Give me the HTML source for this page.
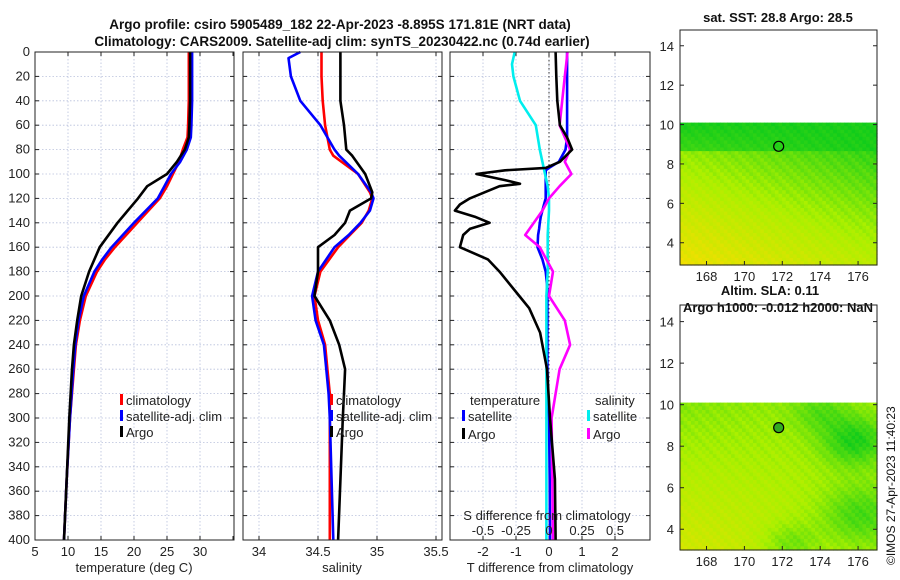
<!DOCTYPE html>
<html><head><meta charset="utf-8"><style>
body{margin:0;background:#fff}
svg{font-family:"Liberation Sans",sans-serif;display:block}
</style></head><body>
<svg id="fig" width="900" height="580" viewBox="0 0 900 580">
<text x="340" y="29" font-size="13.5" font-weight="bold" text-anchor="middle" fill="#111">Argo profile: csiro 5905489_182 22-Apr-2023 -8.895S 171.81E (NRT data)</text>
<text x="342" y="46" font-size="13.5" font-weight="bold" text-anchor="middle" fill="#111">Climatology: CARS2009. Satellite-adj clim: synTS_20230422.nc (0.74d earlier)</text>
<text x="778" y="22" font-size="13" font-weight="bold" text-anchor="middle" fill="#111">sat. SST: 28.8 Argo: 28.5</text>
<text x="770" y="295" font-size="13" font-weight="bold" text-anchor="middle" fill="#111">Altim. SLA: 0.11</text>
<text x="778" y="312" font-size="13" font-weight="bold" text-anchor="middle" fill="#111">Argo h1000: -0.012 h2000: NaN</text>
<text transform="translate(895,565) rotate(-90)" font-size="12" fill="#111">©IMOS 27-Apr-2023 11:40:23</text>
<g id="layer"></g>
</svg>
<script>
// depth levels (m)
const depthT=[0,20,40,60,70,80,90,100,110,120,140,160,170,180,200,220,240,260,300,350,400];
const tempClim=[28.3,28.3,28.3,28.2,28.1,27.4,26.8,25.9,25.0,23.9,20.5,17.1,15.6,14.4,12.7,11.8,11.2,10.9,10.3,9.8,9.4];
const tempSat=[28.8,28.8,28.8,28.7,28.6,28.0,27.0,25.6,24.6,23.6,20.0,16.6,15.2,14.0,12.4,11.6,11.1,10.8,10.3,9.8,9.4];
const tempArgo=[28.5,28.5,28.5,28.4,28.3,27.7,26.5,25.0,22.0,20.6,17.5,14.8,14.0,13.2,12.0,11.4,10.9,10.6,10.2,9.8,9.4];
const depthS=[0,5,20,40,60,80,85,100,115,120,130,140,150,160,180,200,220,240,260,280,300,400];
const salClim=[34.53,34.53,34.53,34.54,34.56,34.60,34.63,34.84,34.94,34.96,34.93,34.87,34.77,34.67,34.52,34.47,34.50,34.56,34.58,34.60,34.60,34.60];
const salSat=[34.35,34.25,34.27,34.35,34.52,34.64,34.68,34.84,34.95,34.97,34.94,34.86,34.76,34.64,34.50,34.45,34.48,34.55,34.57,34.59,34.60,34.63];
const salArgo=[34.69,34.69,34.69,34.69,34.72,34.74,34.79,34.90,34.96,34.95,34.77,34.73,34.64,34.50,34.50,34.47,34.60,34.68,34.73,34.72,34.71,34.67];
const depthD=[0,20,40,60,70,80,90,95,97,100,105,108,110,115,120,125,130,135,140,145,150,160,170,180,190,200,210,230,260,300,350,400];
const dTsat=[0.55,0.55,0.55,0.55,0.55,0.5,0.3,0.0,-0.1,-0.1,-0.1,-0.1,-0.1,-0.1,-0.1,-0.15,-0.2,-0.25,-0.28,-0.3,-0.33,-0.35,-0.2,-0.1,-0.06,-0.05,-0.05,-0.05,-0.05,0.0,0.02,0.03];
const dTargo=[0.2,0.22,0.25,0.33,0.55,0.7,0.33,-0.1,-1.33,-2.2,-1.33,-0.88,-1.5,-1.95,-2.4,-2.7,-2.85,-2.25,-1.8,-2.4,-2.6,-2.7,-1.85,-1.5,-1.2,-0.9,-0.6,-0.27,-0.06,0.03,0.18,0.2];
const depthDS=[0,10,20,40,60,80,90,100,110,120,130,150,160,180,200,220,240,260,300,400];
const dSsat=[-0.26,-0.28,-0.27,-0.22,-0.1,-0.07,-0.05,-0.03,-0.01,0.0,0.0,-0.01,-0.01,-0.01,-0.02,-0.02,-0.02,-0.02,-0.02,-0.02];
const dSargo=[0.14,0.13,0.12,0.1,0.08,0.16,0.12,0.17,0.08,0.0,-0.05,-0.18,-0.07,0.03,0.0,0.12,0.16,0.08,0.02,0.03];
const depthTicks=[0,20,40,60,80,100,120,140,160,180,200,220,240,260,280,300,320,340,360,380,400];
const tempTicks=[5,10,15,20,25,30,35];
const salTicks=[34,34.5,35,35.5];
const dTTicks=[-2,-1,0,1,2];
const dSTicks=[-0.5,-0.25,0,0.25,0.5];
const latTicks=[4,6,8,10,12,14];
const lonTicks=[168,170,172,174,176];

const NS='http://www.w3.org/2000/svg';
const L=document.getElementById('layer');
function mk(tag,attrs,parent){const e=document.createElementNS(NS,tag);for(const k in attrs)e.setAttribute(k,attrs[k]);(parent||L).appendChild(e);return e;}
const Y0=52,Y1=540;
const yD=d=>Y0+(d/400)*(Y1-Y0);
function lin(d0,d1,p0,p1){return v=>p0+(v-d0)/(d1-d0)*(p1-p0);}
const P=[{x0:35,x1:234,sc:lin(5,35,35,233)},{x0:243,x1:442,sc:lin(34,35.5,259,436)},{x0:450,x1:650,sc:lin(-3,3,450,648)}];
const sS=lin(-0.75,0.75,450,648);

function grid(p,ticks,sc,name){
  const g=mk('g',{});
  
  ticks.forEach(t=>{const x=sc(t);if(x>p.x0+1&&x<p.x1-1)mk('line',{x1:x,x2:x,y1:Y0,y2:Y1,stroke:'#b8c0dc','stroke-width':0.8,'stroke-dasharray':'1.5,2'},g);});
  depthTicks.forEach(d=>{mk('line',{x1:p.x0,x2:p.x1,y1:yD(d),y2:yD(d),stroke:'#b8c0dc','stroke-width':0.8,'stroke-dasharray':'1.5,2'},g);
    mk('line',{x1:p.x0,x2:p.x0+4,y1:yD(d),y2:yD(d),stroke:'#222'},g);mk('line',{x1:p.x1-4,x2:p.x1,y1:yD(d),y2:yD(d),stroke:'#222'},g);});
  ticks.forEach(t=>{const x=sc(t);mk('line',{x1:x,x2:x,y1:Y1,y2:Y1-4,stroke:'#222'},g);mk('line',{x1:x,x2:x,y1:Y0,y2:Y0+4,stroke:'#222'},g);});
}
function frame(p,name){const r=mk('rect',{x:p.x0,y:Y0,width:p.x1-p.x0,height:Y1-Y0,fill:'none',stroke:'#222','stroke-width':1});
  }
function line(xs,ds,sc,color,name,w){
  const pts=xs.map((v,i)=>sc(v).toFixed(1)+','+yD(ds[i]).toFixed(1)).join(' ');
  const e=mk('polyline',{points:pts,fill:'none',stroke:color,'stroke-width':w||2.6,'stroke-linejoin':'round'});
  
}
function txt(x,y,s,opts,name){const e=mk('text',Object.assign({x:x,y:y,'font-size':13,fill:'#222'},opts||{}));e.textContent=s;
  return e;}

grid(P[0],tempTicks,P[0].sc,'temperature');
line(tempClim,depthT,P[0].sc,'#ff0000','temp-climatology-line');
line(tempSat,depthT,P[0].sc,'#0000ff','temp-satellite-line');
line(tempArgo,depthT,P[0].sc,'#000000','temp-argo-line');
frame(P[0],'temperature-panel');
depthTicks.forEach(d=>txt(30,yD(d)+4,String(d),{'text-anchor':'end'},'depth-tick-label'));
tempTicks.slice(0,6).forEach(t=>txt(P[0].sc(t),556,String(t),{'text-anchor':'middle'},'temp-tick-label'));
txt(134,572,'temperature (deg C)',{'text-anchor':'middle'},'temp-axis-title');

grid(P[1],salTicks,P[1].sc,'salinity');
line(salClim,depthS,P[1].sc,'#ff0000','sal-climatology-line');
line(salSat,depthS,P[1].sc,'#0000ff','sal-satellite-line');
line(salArgo,depthS,P[1].sc,'#000000','sal-argo-line');
frame(P[1],'salinity-panel');
salTicks.forEach(t=>txt(P[1].sc(t),556,String(t),{'text-anchor':'middle'},'sal-tick-label'));
txt(342,572,'salinity',{'text-anchor':'middle'},'sal-axis-title');

grid(P[2],dTTicks,P[2].sc,'difference');
mk('line',{x1:P[2].sc(0),x2:P[2].sc(0),y1:Y0,y2:Y1,stroke:'#333','stroke-width':1,'stroke-dasharray':'1.5,2.5'});
line(dTsat,depthD,P[2].sc,'#0000ff','dT-satellite-line');
line(dSsat,depthDS,sS,'#00eeee','dS-satellite-line');
line(dSargo,depthDS,sS,'#ff00ff','dS-argo-line');
line(dTargo,depthD,P[2].sc,'#000000','dT-argo-line');
frame(P[2],'difference-panel');
dTTicks.forEach(t=>txt(P[2].sc(t),556,String(t),{'text-anchor':'middle'},'dT-tick-label'));
txt(550,572,'T difference from climatology',{'text-anchor':'middle'},'dT-axis-title');
txt(547,520,'S difference from climatology',{'text-anchor':'middle'},'dS-axis-title');
dSTicks.forEach(t=>txt(sS(t),535,String(t),{'text-anchor':'middle'},'dS-tick-label'));

function leg(x,y,color,label,name){const r=mk('rect',{x:x,y:y-11,width:3,height:11,fill:color});
  txt(x+6,y,label,{},name);}
leg(120,405,'#ff0000','climatology','legend-temp-climatology');
leg(120,421,'#0000ff','satellite-adj. clim','legend-temp-satellite');
leg(120,437,'#000','Argo','legend-temp-argo');
leg(330,405,'#ff0000','climatology','legend-sal-climatology');
leg(330,421,'#0000ff','satellite-adj. clim','legend-sal-satellite');
leg(330,437,'#000','Argo','legend-sal-argo');
txt(470,405,'temperature',{},'legend-temp-heading');
txt(595,405,'salinity',{},'legend-sal-heading');
leg(462,421,'#0000ff','satellite','legend-dT-satellite');
leg(462,439,'#000','Argo','legend-dT-argo');
leg(587,421,'#00eeee','satellite','legend-dS-satellite');
leg(587,439,'#ff00ff','Argo','legend-dS-argo');

function col(t){t=Math.max(0,Math.min(1,t));
  // dark green -> lime -> yellow -> orange-yellow
  let r,g,b=0;
  if(t<0.5){const s=t/0.5;r=Math.round(0+170*s);g=Math.round(200+40*s);b=Math.round(30*(1-s));}
  else{const s=(t-0.5)/0.5;r=Math.round(170+85*s);g=Math.round(240-20*s);}
  return `rgb(${r},${g},${b})`;}
function map(y0,y1,latMin,latMax,argoLat,name,sst){
  const x0=680,x1=877,lonMin=166.6,lonMax=177.0;
  const lx=lin(lonMin,lonMax,x0,x1),ly=lin(latMin,latMax,y1,y0);
  const g=mk('g',{});
  const top=ly(10.1),n=54,m=40;const cw=(x1-x0)/n,ch=(y1-top)/m;
  for(let i=0;i<n;i++)for(let j=0;j<m;j++){
    const u=i/n,v=j/m;const h=(((i*7+j*13)%5)/5-0.5)*0.12;
    const lat=10.1-(v)*(10.1-latMin);
    let t;
    if(sst){
      if(lat>8.7) t=0.08+0.08*(1-u)*(10.1-lat)+h*0.6;
      else t=0.45+0.08*(8.7-lat)-0.3*u+h;
    } else {
      t=0.5+0.05*(8-lat)*(1-u)+h-0.4*Math.exp(-((u-0.88)**2+(v-0.25)**2)/0.03)-0.3*Math.exp(-((u-0.9)**2+(v-0.75)**2)/0.04)-0.25*Math.exp(-((u-0.55)**2+(v-0.95)**2)/0.02)-0.2*Math.exp(-((u-0.7)**2+(v-0.05)**2)/0.02);
    }
    mk('rect',{x:(x0+i*cw).toFixed(1),y:(top+j*ch).toFixed(1),width:(cw+0.6).toFixed(1),height:(ch+0.6).toFixed(1),fill:col(t)},g);
  }
  mk('circle',{cx:lx(171.81),cy:ly(argoLat),r:5,fill:sst?'none':'#33aa22',stroke:'#000','stroke-width':1.2},g);
  mk('rect',{x:x0,y:y0,width:x1-x0,height:y1-y0,fill:'none',stroke:'#222'},g);
  latTicks.forEach(t=>{const y=ly(t);mk('line',{x1:x0,x2:x0+4,y1:y,y2:y,stroke:'#222'},g);mk('line',{x1:x1-4,x2:x1,y1:y,y2:y,stroke:'#222'},g);
    txt(x0-6,y+5,String(t),{'text-anchor':'end'},'map-lat-tick-label');});
  lonTicks.forEach(t=>{const x=lx(t);mk('line',{x1:x,x2:x,y1:y1,y2:y1-4,stroke:'#222'},g);
    txt(x,y1+16,String(t),{'text-anchor':'middle'},'map-lon-tick-label');});
}
map(30,265,2.87,14.8,8.895,'sst-map',true);
map(305,550,3.0,14.8,8.895,'sla-map',false);
</script>
</body></html>
